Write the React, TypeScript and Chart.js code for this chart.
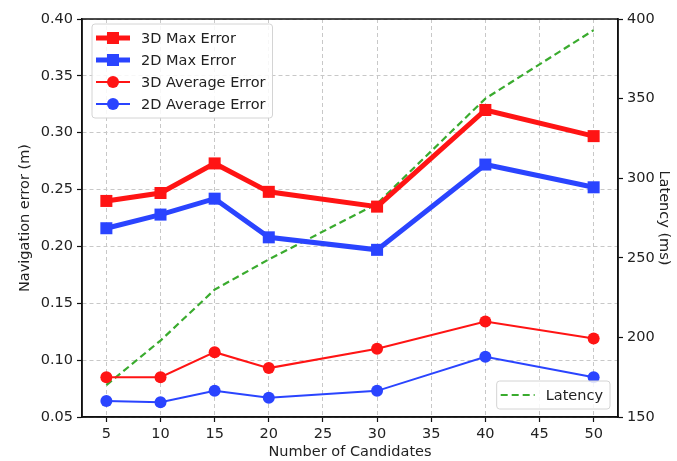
import React, { useEffect, useRef } from "react";
import { Chart, registerables } from "chart.js";

Chart.register(...registerables);

const candidates = [5, 10, 15, 20, 30, 40, 50];
const maxError3D = [0.240, 0.247, 0.273, 0.248, 0.235, 0.320, 0.297];
const maxError2D = [0.216, 0.228, 0.242, 0.208, 0.197, 0.272, 0.252];
const avgError3D = [0.085, 0.085, 0.107, 0.093, 0.110, 0.134, 0.119];
const avgError2D = [0.064, 0.063, 0.073, 0.067, 0.073, 0.103, 0.085];
const latency = [170, 198, 230, 249, 284, 350, 393];
const xTicks = [5, 10, 15, 20, 25, 30, 35, 40, 45, 50];

const RED = "#ff1414";
const BLUE = "#2a44ff";
const GREEN = "#3aab2e";
const FONT = "DejaVu Sans";
const FS = 14.5;

const toPts = (ys: number[]) => candidates.map((x, i) => ({ x, y: ys[i] }));

function drawLegendBox(ctx: CanvasRenderingContext2D, chart: any, idxs: number[], x: number, y: number, anchorRight: boolean) {
  ctx.save();
  ctx.font = `${FS}px "${FONT}"`;
  const rowH = 22;
  const handleW = 34;
  const padL = 4;
  const gap = 11;
  let maxW = 0;
  idxs.forEach((i) => {
    const w = ctx.measureText(chart.data.datasets[i].label).width;
    if (w > maxW) maxW = w;
  });
  const boxW = padL + handleW + gap + maxW + 7;
  const boxH = idxs.length * rowH + 6;
  const bx = anchorRight ? x - boxW : x;
  const by = anchorRight ? y - boxH : y;
  ctx.beginPath();
  (ctx as any).roundRect(bx, by, boxW, boxH, 3);
  ctx.fillStyle = "rgba(255,255,255,0.85)";
  ctx.fill();
  ctx.strokeStyle = "#d4d4d4";
  ctx.lineWidth = 1;
  ctx.stroke();
  idxs.forEach((i, k) => {
    const ds = chart.data.datasets[i];
    const cy = by + 3 + rowH * k + rowH / 2;
    const hx = bx + padL;
    ctx.save();
    ctx.strokeStyle = ds.borderColor;
    ctx.lineWidth = ds.borderWidth;
    ctx.setLineDash(ds.borderDash || []);
    ctx.beginPath();
    ctx.moveTo(hx, cy);
    ctx.lineTo(hx + handleW, cy);
    ctx.stroke();
    ctx.restore();
    if (ds.pointRadius > 0) {
      ctx.fillStyle = ds.pointBackgroundColor;
      ctx.beginPath();
      if (ds.pointStyle === "rect") {
        const s = ds.pointRadius * Math.SQRT1_2;
        ctx.rect(hx + handleW / 2 - s, cy - s, 2 * s, 2 * s);
      } else {
        ctx.arc(hx + handleW / 2, cy, ds.pointRadius, 0, Math.PI * 2);
      }
      ctx.fill();
    }
    ctx.fillStyle = "#222";
    ctx.textBaseline = "middle";
    ctx.textAlign = "left";
    ctx.fillText(ds.label, hx + handleW + gap, cy + 1);
  });
  ctx.restore();
}

const framePlugin = {
  id: "frameAndLegends",
  afterDatasetsDraw(chart: any) {
    const { ctx, chartArea: a } = chart;
    ctx.save();
    ctx.strokeStyle = "#111";
    ctx.lineWidth = 1.5;
    ctx.strokeRect(a.left, a.top, a.right - a.left, a.bottom - a.top);
    ctx.restore();
  },
  afterDraw(chart: any) {
    const { ctx, chartArea: a } = chart;
    drawLegendBox(ctx, chart, [0, 1, 2, 3], a.left + 10, a.top + 5, false);
    drawLegendBox(ctx, chart, [4], a.right - 8, a.bottom - 8, true);
  },
};

export default function App() {
  const ref = useRef<HTMLCanvasElement>(null);
  useEffect(() => {
    if (!ref.current) return;
    Chart.defaults.font.family = FONT;
    Chart.defaults.font.size = FS;
    Chart.defaults.color = "#222";
    const chart = new Chart(ref.current, {
      type: "line",
      data: {
        datasets: [
          {
            label: "3D Max Error",
            data: toPts(maxError3D),
            borderColor: RED,
            backgroundColor: RED,
            pointBackgroundColor: RED,
            pointBorderWidth: 0,
            borderWidth: 5,
            pointStyle: "rect",
            pointRadius: 8.5,
            yAxisID: "y",
          },
          {
            label: "2D Max Error",
            data: toPts(maxError2D),
            borderColor: BLUE,
            backgroundColor: BLUE,
            pointBackgroundColor: BLUE,
            pointBorderWidth: 0,
            borderWidth: 5,
            pointStyle: "rect",
            pointRadius: 8.5,
            yAxisID: "y",
          },
          {
            label: "3D Average Error",
            data: toPts(avgError3D),
            borderColor: RED,
            backgroundColor: RED,
            pointBackgroundColor: RED,
            pointBorderWidth: 0,
            borderWidth: 2,
            pointStyle: "circle",
            pointRadius: 6,
            yAxisID: "y",
          },
          {
            label: "2D Average Error",
            data: toPts(avgError2D),
            borderColor: BLUE,
            backgroundColor: BLUE,
            pointBackgroundColor: BLUE,
            pointBorderWidth: 0,
            borderWidth: 2,
            pointStyle: "circle",
            pointRadius: 6,
            yAxisID: "y",
          },
          {
            label: "Latency",
            data: toPts(latency),
            borderColor: GREEN,
            backgroundColor: GREEN,
            pointBackgroundColor: GREEN,
            borderWidth: 2.2,
            borderDash: [7, 4],
            pointRadius: 0,
            yAxisID: "y1",
          },
        ] as any,
      },
      options: {
        animation: false,
        responsive: false,
        layout: { padding: { top: 19, left: 0, right: 0, bottom: 0 } },
        plugins: { legend: { display: false }, tooltip: { enabled: false } },
        scales: {
          x: {
            type: "linear",
            min: 2.75,
            max: 52.25,
            afterBuildTicks: (s: any) => {
              s.ticks = xTicks.map((v) => ({ value: v }));
            },
            afterFit: (s: any) => {
              s.height = 44;
            },
            ticks: { padding: 4, callback: (v: any) => String(v) },
            grid: {
              color: "#c8c8c8",
              lineWidth: 1,
              tickColor: "#111",
              tickLength: 5,
              tickBorderDash: [],
              tickWidth: 1.2,
            } as any,
            border: { color: "#111", width: 1.5, dash: [4, 3] },
            title: { display: true, text: "Number of Candidates", padding: { top: 0, bottom: 0 }, font: { size: FS } },
          },
          y: {
            position: "left",
            min: 0.05,
            max: 0.4,
            ticks: { stepSize: 0.05, padding: 4, callback: (v: any) => Number(v).toFixed(2) },
            afterFit: (s: any) => {
              s.width = 82;
            },
            grid: {
              color: "#c8c8c8",
              lineWidth: 1,
              tickColor: "#111",
              tickLength: 5,
              tickBorderDash: [],
              tickWidth: 1.2,
            } as any,
            border: { color: "#111", width: 1.5, dash: [4, 3] },
            title: { display: true, text: "Navigation error (m)", padding: { top: 17, bottom: 0 }, font: { size: FS } },
          },
          y1: {
            position: "right",
            min: 150,
            max: 400,
            ticks: { stepSize: 50, padding: 4 },
            afterFit: (s: any) => {
              s.width = 59;
            },
            grid: { drawOnChartArea: false, tickColor: "#111", tickLength: 5, tickWidth: 1.2 } as any,
            border: { color: "#111", width: 1.5 },
            title: { display: true, text: "Latency (ms)", padding: { top: 5, bottom: 0 }, font: { size: FS } },
          },
        },
      } as any,
      plugins: [framePlugin],
    });
    return () => chart.destroy();
  }, []);
  return (
    <div style={{ position: "fixed", left: 0, top: 0, width: 677, height: 461, background: "#fff" }}>
      <canvas ref={ref} width={677} height={461} style={{ width: 677, height: 461 }} />
    </div>
  );
}
